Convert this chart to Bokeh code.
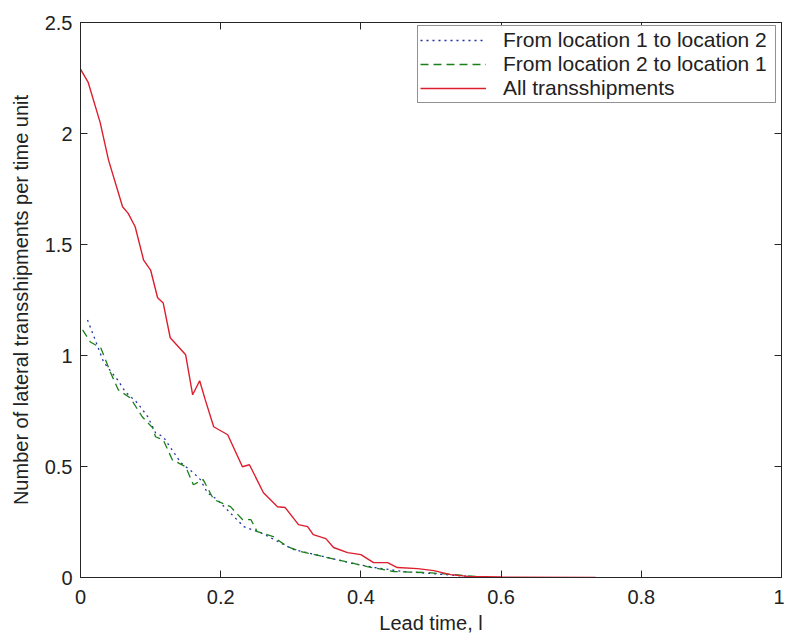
from bokeh.plotting import figure
from bokeh.models import LinearAxis, Legend, LegendItem, Range1d, FixedTicker
from bokeh.embed import file_html
from bokeh.resources import INLINE

# ---- data ----
red_x = [0.0, 0.011, 0.028, 0.040, 0.060, 0.068, 0.078, 0.090, 0.100, 0.110, 0.118, 0.128,
         0.150, 0.160, 0.170, 0.178, 0.190, 0.210, 0.231, 0.241, 0.261, 0.281, 0.292, 0.311,
         0.324, 0.332, 0.350, 0.361, 0.381, 0.400, 0.418, 0.438, 0.452, 0.481, 0.504, 0.528,
         0.552, 0.600, 0.735]
red_y = [2.29, 2.23, 2.05, 1.88, 1.67, 1.64, 1.58, 1.43, 1.385, 1.26, 1.236, 1.08,
         1.003, 0.823, 0.886, 0.80, 0.679, 0.643, 0.499, 0.508, 0.382, 0.319, 0.315, 0.238,
         0.229, 0.193, 0.175, 0.135, 0.112, 0.103, 0.067, 0.067, 0.045, 0.040, 0.031, 0.013,
         0.005, 0.002, 0.0]

green_x = [0.003, 0.014, 0.029, 0.043, 0.054, 0.071, 0.088, 0.103, 0.107, 0.118, 0.131, 0.150,
           0.161, 0.175, 0.190, 0.214, 0.231, 0.243, 0.252, 0.275, 0.295, 0.314, 0.352, 0.385,
           0.409, 0.447, 0.495, 0.532, 0.580]
green_y = [1.115, 1.061, 1.034, 0.922, 0.845, 0.809, 0.724, 0.674, 0.634, 0.620, 0.530, 0.499,
           0.418, 0.441, 0.351, 0.319, 0.261, 0.261, 0.207, 0.184, 0.139, 0.117, 0.090, 0.067,
           0.049, 0.027, 0.022, 0.013, 0.0]

blue_x = [0.010, 0.021, 0.033, 0.053, 0.064, 0.081, 0.096, 0.107, 0.118, 0.143, 0.161, 0.171,
          0.181, 0.195, 0.233, 0.257, 0.304, 0.350, 0.390, 0.420, 0.460, 0.500, 0.540, 0.580]
blue_y = [1.16, 1.07, 0.97, 0.89, 0.836, 0.787, 0.724, 0.652, 0.634, 0.517, 0.472, 0.441,
          0.382, 0.351, 0.229, 0.202, 0.126, 0.092, 0.062, 0.045, 0.027, 0.018, 0.008, 0.0]

x_ticks = [0, 0.2, 0.4, 0.6, 0.8, 1]
y_ticks = [0, 0.5, 1, 1.5, 2, 2.5]
x_label = "Lead time, l"
y_label = "Number of lateral transshipments per time unit"
names = ["From location 1 to location 2", "From location 2 to location 1", "All transshipments"]

FONT = "Liberation Sans"
FS = "20px"
AX = "#262626"

p = figure(width=784, height=636, output_backend="svg", toolbar_location=None,
           x_range=Range1d(0, 1), y_range=Range1d(0, 2.5),
           min_border_left=80, min_border_right=3, min_border_top=22, min_border_bottom=55,
           x_axis_location=None, y_axis_location=None)
p.background_fill_color = "white"
p.border_fill_color = "white"
p.outline_line_color = AX
p.outline_line_width = 1
p.xgrid.visible = False
p.ygrid.visible = False


def style(ax, ticks, labels=True):
    ax.ticker = FixedTicker(ticks=ticks)
    ax.axis_line_color = AX
    ax.major_tick_line_color = AX
    ax.major_tick_in = 7
    ax.major_tick_out = 0
    ax.minor_tick_line_color = None
    ax.major_label_text_font = FONT
    ax.axis_label_text_font = FONT
    ax.axis_label_text_font_style = "normal"
    ax.axis_label_text_font_size = FS
    ax.axis_label_text_color = "#222"
    if labels:
        ax.major_label_text_font_size = FS
        ax.major_label_text_color = "#222"
    else:
        ax.major_label_text_font_size = "1px"
        ax.major_label_text_color = None
        ax.major_label_standoff = 0


xb = LinearAxis(axis_label=x_label)
xt = LinearAxis()
yl = LinearAxis(axis_label=y_label)
yr = LinearAxis()
style(xb, x_ticks); style(xt, x_ticks, False); style(yl, y_ticks); style(yr, y_ticks, False)
xb.major_label_standoff = 12
xb.axis_label_standoff = 5
yl.major_label_standoff = 8
yl.axis_label_standoff = 10
yl.major_label_overrides = {0: "0", 1: "1", 2: "2"}
xb.major_label_overrides = {0: "0", 1: "1"}
p.add_layout(xb, "below")
p.add_layout(xt, "above")
p.add_layout(yl, "left")
p.add_layout(yr, "right")

r_blue = p.line(blue_x, blue_y, line_color="#2233aa", line_width=1.3, line_dash="2 4")
r_green = p.line(green_x, green_y, line_color="#1a801a", line_width=1.3, line_dash="8 5")
r_red = p.line(red_x, red_y, line_color="#dc1e2e", line_width=1.4)

legend = Legend(items=[LegendItem(label=names[0], renderers=[r_blue]),
                       LegendItem(label=names[1], renderers=[r_green]),
                       LegendItem(label=names[2], renderers=[r_red])],
                location=(337, 474))
legend.label_text_font = FONT
legend.label_text_font_size = "21px"
legend.label_text_color = "#222"
legend.glyph_width = 66
legend.glyph_height = 20
legend.label_height = 20
legend.label_width = 270
legend.label_standoff = 17
legend.spacing = 0
legend.padding = 2
legend.margin = 0
legend.border_line_color = AX
legend.border_line_width = 1
legend.background_fill_color = "white"
p.add_layout(legend)

open("out.html", "w").write(file_html(p, INLINE))
